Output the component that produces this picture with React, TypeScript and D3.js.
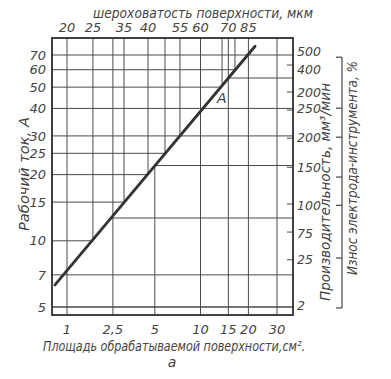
import React from 'react';
import * as d3 from 'd3';

// Bottom axis: area of treated surface, cm²
const areaTicks = [1, 2.5, 5, 10, 15, 20, 30];
const areaTickLabels = ['1', '2,5', '5', '10', '15', '20', '30'];
// Top axis: surface roughness (placed at the equivalent area on the nomogram)
const roughLabels = ['20', '25', '35', '40', '55', '60', '70', '85'];
const roughAtArea = [1, 1.73, 3.03, 4.49, 7.36, 10, 15, 20];
const roughGridAtArea = [1, 1.73, 2.5, 3.03, 4.49, 5.86, 7.36, 10, 13.7, 15, 16.5, 20];
// Left axis: working current, A
const currentTicks = [5, 7, 10, 15, 20, 25, 30, 40, 50, 60, 70];
// Right axis: productivity / wear (placed at the equivalent current)
const rightLabels = ['500', '400', '200', '250', '200', '150', '100', '75', '25', '2'];
const rightAtCurrent = [72.9, 60.4, 47.5, 40.1, 29.6, 21.6, 14.5, 10.8, 8.2, 5.1];
const rightTickAtCurrent = [63.0, 47.5, 39.3, 29.3, 21.6, 14.7, 10.96, 8.2];
const rightGridAtCurrent = [70, 55, 40, 30, 22, 12.7, 7, 5];
const wearTicksAtCurrent = [68.4, 40.1, 29.6, 19.5, 14.5, 8.35, 4.95];
// Line A
const lineArea = [0.74, 22];
const lineCurrent = [6.3, 76.7];

export default function App() {
  const W = 391, H = 379;
  const left = 52, right = 293, top = 38, bottom = 315;
  const x = d3.scaleSymlog().constant(0.7).domain([1, 30]).range([67, 277]);
  const y = d3.scaleLog().domain([5, 70]).range([307, 55]);

  const p0 = { x: x(lineArea[0]), y: y(lineCurrent[0]) };
  const p1 = { x: x(lineArea[1]), y: y(lineCurrent[1]) };
  const xAtY = (py: number) => p0.x + (py - p0.y) * (p1.x - p0.x) / (p1.y - p0.y);
  const yAtX = (px: number) => p0.y + (px - p0.x) * (p1.y - p0.y) / (p1.x - p0.x);

  const grid = '#4a4a4a';
  const ink = '#444';
  const font = "'DejaVu Sans', sans-serif";

  const hLeft = currentTicks.map((c) => {
    const py = y(c);
    const x2 = py > p0.y ? right : py < p1.y ? right : xAtY(py);
    return { py, x2 };
  });
  const hRight = rightGridAtCurrent.map((c) => {
    const py = y(c);
    const x1 = py > p0.y ? left : xAtY(py);
    return { py, x1 };
  });
  const vTop = roughGridAtArea.map((a) => {
    const px = x(a);
    const y2 = px < p0.x || px > p1.x ? bottom : yAtX(px);
    return { px, y2 };
  });
  const vBottom = areaTicks.map((a) => {
    const px = x(a);
    const y1 = px < p0.x || px > p1.x ? top : yAtX(px);
    return { px, y1 };
  });

  return (
    <svg width={W} height={H} style={{ position: 'absolute', left: 0, top: 0, background: '#fff' }}>
      {/* grid */}
      <g stroke={grid} strokeWidth={1} fill="none">
        {hLeft.map((d, i) => (
          <line key={'hl' + i} x1={left} x2={d.x2} y1={d.py} y2={d.py} />
        ))}
        {hRight.map((d, i) => (
          <line key={'hr' + i} x1={d.x1} x2={right} y1={d.py} y2={d.py} />
        ))}
        {vTop.map((d, i) => (
          <line key={'vt' + i} x1={d.px} x2={d.px} y1={top} y2={d.y2} />
        ))}
        {vBottom.map((d, i) => (
          <line key={'vb' + i} x1={d.px} x2={d.px} y1={d.y1} y2={bottom} />
        ))}
        {rightTickAtCurrent.map((c, i) => (
          <line key={'rt' + i} x1={right - 6} x2={right} y1={y(c)} y2={y(c)} />
        ))}
      </g>
      {/* frame */}
      <rect x={left} y={top} width={right - left} height={bottom - top} fill="none" stroke="#2e2e2e" strokeWidth={1.8} />
      {/* line A */}
      <line x1={p0.x} y1={p0.y} x2={p1.x} y2={p1.y} stroke="#333" strokeWidth={2.8} strokeLinecap="round" />
      <text x={xAtY(y(40)) + 14} y={y(40) - 5} fontFamily={font} fontStyle="italic" fontSize={14} fill={ink}>A</text>

      {/* tick labels */}
      <g fontFamily={font} fontStyle="italic" fontSize={13} fill={ink}>
        {currentTicks.map((c) => (
          <text key={'l' + c} x={46} y={y(c)} dy="0.36em" textAnchor="end">{c}</text>
        ))}
        {rightLabels.map((t, i) => (
          <text key={'r' + i} x={297} y={y(rightAtCurrent[i])} dy="0.36em" fontSize={12.5}>{t}</text>
        ))}
        {roughLabels.map((t, i) => (
          <text key={'t' + i} x={x(roughAtArea[i])} y={32} textAnchor="middle">{t}</text>
        ))}
        {areaTicks.map((a, i) => (
          <text key={'b' + i} x={x(a)} y={334} textAnchor="middle">{areaTickLabels[i]}</text>
        ))}
      </g>

      {/* titles */}
      <g fontFamily={font} fontStyle="italic" fontSize={14} fill={ink}>
        <text x={203} y={18} textAnchor="middle" textLength={220} lengthAdjust="spacingAndGlyphs">
          шероховатость поверхности, мкм
        </text>
        <text x={174} y={351} textAnchor="middle" textLength={262} lengthAdjust="spacingAndGlyphs">
          Площадь обрабатываемой поверхности,см².
        </text>
        <text x={172} y={367} textAnchor="middle">а</text>
        <text transform="translate(29,174) rotate(-90)" textAnchor="middle" textLength={114} lengthAdjust="spacingAndGlyphs">
          Рабочий ток, А
        </text>
        <text transform="translate(330,192) rotate(-90)" textAnchor="middle" textLength={218} lengthAdjust="spacingAndGlyphs">
          Производительность, мм³/мин
        </text>
        <text transform="translate(357,168) rotate(-90)" textAnchor="middle" textLength={214} lengthAdjust="spacingAndGlyphs">
          Износ электрода-инструмента, %
        </text>
      </g>

      {/* wear bracket */}
      <g stroke={ink} strokeWidth={1.2} fill="none">
        <line x1={342} x2={342} y1={y(wearTicksAtCurrent[0])} y2={y(wearTicksAtCurrent[wearTicksAtCurrent.length - 1])} />
        {wearTicksAtCurrent.map((c, i) => (
          <line key={'w' + i} x1={336} x2={342} y1={y(c)} y2={y(c)} />
        ))}
      </g>
    </svg>
  );
}
